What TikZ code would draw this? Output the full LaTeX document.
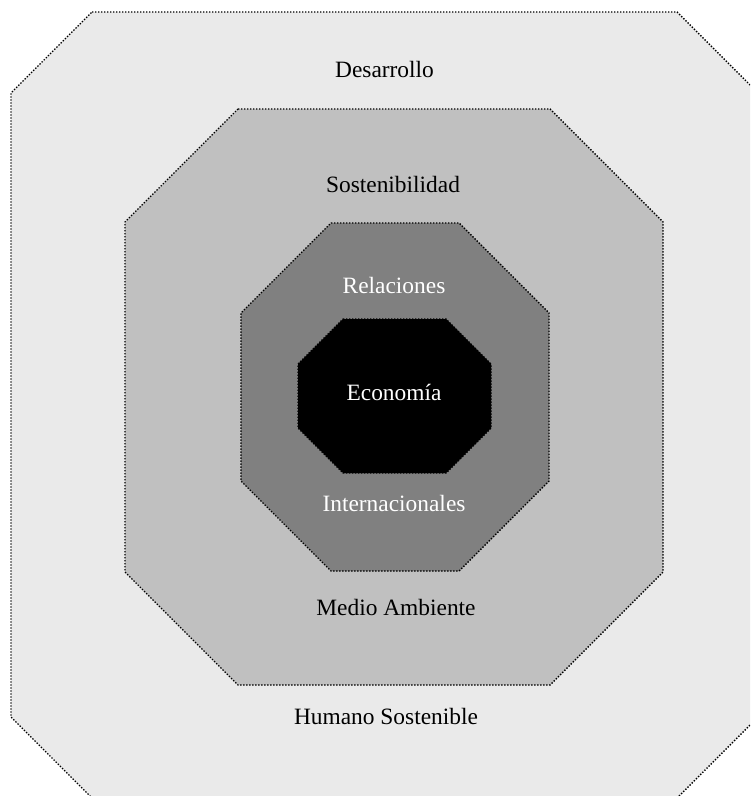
\documentclass[tikz,border=0pt]{standalone}
\usepackage{fontspec}
\setmainfont{Liberation Serif}
\definecolor{paleGray}{HTML}{EAEAEA}
\definecolor{midGray}{HTML}{C0C0C0}
\definecolor{darkGray}{HTML}{808080}
% octagon: fill, left, top, right, bottom, cut
\newcommand{\octRing}[6]{%
  \draw[ring, fill=#1] (#2+#6,#3) -- (#4-#6,#3) -- (#4,#3+#6) -- (#4,#5-#6)
    -- (#4-#6,#5) -- (#2+#6,#5) -- (#2,#5-#6) -- (#2,#3+#6) -- cycle;}
\begin{document}
\begin{tikzpicture}[x=0.5pt, y=-0.5pt]
      \tikzset{
      ring/.style={draw=black, line width=0.7pt, dash pattern=on 0.7pt off 0.8pt},
      lbl/.style={font=\fontsize{11.7}{14}\selectfont, anchor=base, inner sep=0pt},
      }
      \clip (0,0) rectangle (750,796);

      %rings, outside in
      \octRing{paleGray}{11}{12}{758}{798}{81}
      \octRing{midGray}{125}{109}{663}{685}{113}
      \octRing{darkGray}{241}{223}{549}{571}{90}
      \octRing{black}{298}{319}{491}{473}{45}

      %labels
      \node[lbl] (desarrollo) at (384.5,78) {Desarrollo};
      \node[lbl] (humano) at (386,724) {Humano Sostenible};
      \node[lbl] (sosten) at (393,193) {Sostenibilidad};
      \node[lbl] (medio) at (396,615) {Medio Ambiente};
      \node[lbl, white] (relac) at (394,293) {Relaciones};
      \node[lbl, white] (intern) at (394,511) {Internacionales};
      \node[lbl, white] (econ) at (394,400) {Economía};
\end{tikzpicture}
\end{document}
